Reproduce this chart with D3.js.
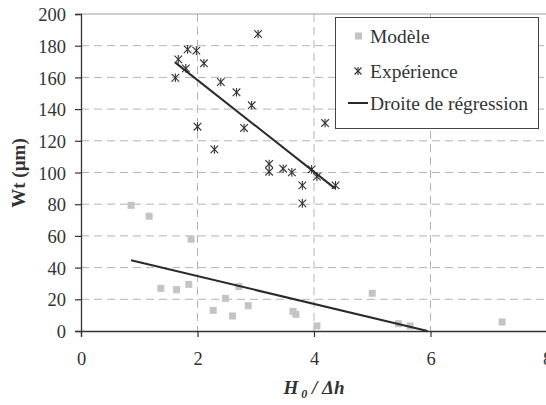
<!DOCTYPE html>
<html lang="fr">
<head>
<meta charset="UTF-8">
<title>Wt vs H0/dh</title>
<script src="https://d3js.org/d3.v7.min.js"></script>
<style>
  body { margin: 0; background: #fff; }
</style>
</head>
<body>
<div id="chart"></div>
<script>
// Modèle (gray squares)
const modeleX = [0.86, 1.17, 1.89, 1.37, 1.64, 1.85, 2.27, 2.48, 2.60, 2.71, 2.87, 3.64, 3.69, 4.05, 5.00, 5.45, 5.65, 7.23];
const modeleY = [79.3, 72.4, 57.9, 26.9, 26.1, 29.4, 13.0, 20.6, 9.5, 28.0, 16.0, 12.4, 10.5, 3.2, 23.8, 4.6, 3.2, 5.7];

// Expérience (asterisks)
const expX = [3.04, 1.83, 1.98, 1.67, 2.11, 1.80, 1.62, 2.40, 2.67, 2.93, 2.00, 2.80, 2.29, 4.19, 3.23, 3.23, 3.47, 3.62, 3.96, 4.05, 3.80, 4.37, 3.80];
const expY = [187.4, 177.7, 176.9, 171.4, 168.9, 165.7, 159.8, 157.1, 150.6, 142.4, 128.9, 128.1, 114.6, 131.2, 105.4, 100.5, 102.4, 100.1, 102.0, 97.4, 91.9, 91.9, 80.5];

// regression lines [x1, y1, x2, y2]
const regExp = [1.62, 169.3, 4.36, 90.0];
const regModele = [0.86, 44.6, 5.95, 0];

const xTicks = [0, 2, 4, 6, 8];
const yTicks = [0, 20, 40, 60, 80, 100, 120, 140, 160, 180, 200];
const legendLabels = ["Modèle", "Expérience", "Droite de régression"];

const W = 546, H = 405;
const FONT = "Liberation Serif";

const svg = d3.select("#chart").append("svg").attr("width", W).attr("height", H);

const x = d3.scaleLinear().domain([0, 8]).range([81, 547]);
const y = d3.scaleLinear().domain([0, 200]).range([331, 14]);

const gridColor = "#b4b4b4";

// horizontal grid
svg.append("g").selectAll("line")
  .data(yTicks.filter(d => d > 0 && d < 200))
  .join("line")
  .attr("x1", x(0)).attr("x2", W)
  .attr("y1", d => y(d)).attr("y2", d => y(d))
  .attr("stroke", gridColor).attr("stroke-width", 1)
  .attr("stroke-dasharray", "8,5");

// vertical grid
svg.append("g").selectAll("line")
  .data(xTicks.filter(d => d > 0 && d < 8))
  .join("line")
  .attr("x1", d => x(d)).attr("x2", d => x(d))
  .attr("y1", y(200)).attr("y2", y(0))
  .attr("stroke", gridColor).attr("stroke-width", 1)
  .attr("stroke-dasharray", "8,5");

// top border
svg.append("line")
  .attr("x1", x(0)).attr("x2", W)
  .attr("y1", y(200)).attr("y2", y(200))
  .attr("stroke", "#a0a0a0").attr("stroke-width", 1.2);

// axes
const xAxis = svg.append("g")
  .attr("transform", `translate(0,${y(0)})`)
  .call(d3.axisBottom(x).tickValues(xTicks).tickSize(6).tickPadding(15).tickFormat(d3.format("d")));
const yAxis = svg.append("g")
  .attr("transform", `translate(${x(0)},0)`)
  .call(d3.axisLeft(y).tickValues(yTicks).tickSize(6).tickPadding(9).tickFormat(d3.format("d")));

[xAxis, yAxis].forEach(g => {
  g.attr("font-family", FONT).attr("font-size", 18.5);
  g.select(".domain").attr("stroke", "#333").attr("stroke-width", 1.3);
  g.selectAll(".tick line").attr("stroke", "#333").attr("stroke-width", 1.2);
  g.selectAll(".tick text").attr("fill", "#333");
});
yAxis.selectAll(".tick text").attr("dy", "0.36em");

// Modèle squares
svg.append("g").selectAll("rect")
  .data(modeleX.map((d, i) => [d, modeleY[i]]))
  .join("rect")
  .attr("x", d => x(d[0]) - 3.5).attr("y", d => y(d[1]) - 3.5)
  .attr("width", 7).attr("height", 7)
  .attr("fill", "#c4c4c4");

// asterisk marker
function star(g, cx, cy, s) {
  g.append("line").attr("x1", cx - s).attr("y1", cy - s).attr("x2", cx + s).attr("y2", cy + s);
  g.append("line").attr("x1", cx - s).attr("y1", cy + s).attr("x2", cx + s).attr("y2", cy - s);
  g.append("line").attr("x1", cx).attr("y1", cy - s - 0.5).attr("x2", cx).attr("y2", cy + s + 0.5);
}

const expG = svg.append("g").attr("stroke", "#333").attr("stroke-width", 1.1);
expX.forEach((d, i) => star(expG, x(d), y(expY[i]), 3.8));

// regression lines
[regExp, regModele].forEach(r => {
  svg.append("line")
    .attr("x1", x(r[0])).attr("y1", y(r[1]))
    .attr("x2", x(r[2])).attr("y2", y(r[3]))
    .attr("stroke", "#2a2a2a").attr("stroke-width", 2);
});

// legend
const leg = svg.append("g");
leg.append("rect")
  .attr("x", 335.5).attr("y", 17.5).attr("width", 203).attr("height", 111)
  .attr("fill", "#fff").attr("stroke", "#444").attr("stroke-width", 1);
const rowY = [36, 71, 103];
leg.append("rect").attr("x", 355).attr("y", rowY[0] - 3.5).attr("width", 7).attr("height", 7).attr("fill", "#c4c4c4");
const lg = leg.append("g").attr("stroke", "#333").attr("stroke-width", 1.1);
star(lg, 358, rowY[1], 3.5);
leg.append("line").attr("x1", 348).attr("x2", 368).attr("y1", rowY[2]).attr("y2", rowY[2])
  .attr("stroke", "#2a2a2a").attr("stroke-width", 2);
leg.selectAll("text.lab")
  .data(legendLabels)
  .join("text")
  .attr("class", "lab")
  .attr("x", 370).attr("y", (d, i) => rowY[i])
  .attr("dy", "0.36em")
  .attr("font-family", FONT)
  .attr("font-size", 19.5).attr("fill", "#333")
  .text(d => d);

// axis titles
const xt = svg.append("text")
  .attr("x", 314).attr("y", 394)
  .attr("text-anchor", "middle")
  .attr("font-family", FONT)
  .attr("font-size", 19).attr("font-weight", "bold").attr("font-style", "italic")
  .attr("fill", "#333");
xt.append("tspan").text("H");
xt.append("tspan").attr("dy", 4).attr("font-size", 12).text(" 0");
xt.append("tspan").attr("dy", -4).text("  / Δh");

svg.append("text")
  .attr("transform", `translate(25,173) rotate(-90)`)
  .attr("text-anchor", "middle")
  .attr("font-family", FONT)
  .attr("font-size", 19).attr("font-weight", "bold")
  .attr("fill", "#333")
  .text("Wt (µm)");
</script>
</body>
</html>
